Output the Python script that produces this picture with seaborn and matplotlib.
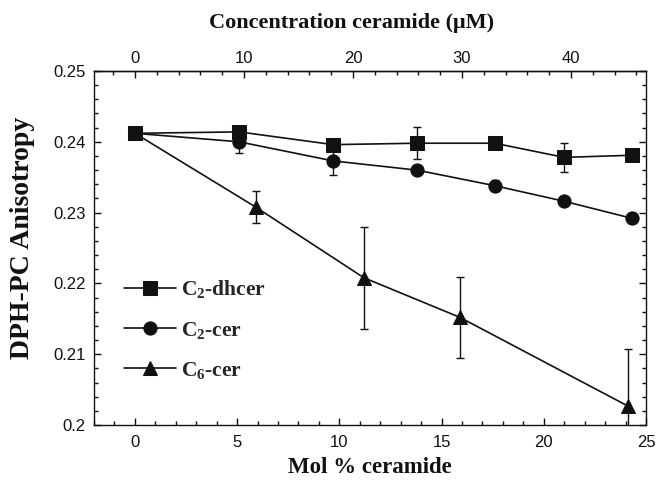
import matplotlib
matplotlib.use("Agg")
import matplotlib.pyplot as plt
import seaborn as sns
import pandas as pd
from matplotlib.ticker import MultipleLocator, FixedLocator, FuncFormatter

# ---- data ----
dh_x = [0, 5.1, 9.7, 13.8, 17.6, 21.0, 24.3]
dh_y = [0.2412, 0.2414, 0.2396, 0.2398, 0.2398, 0.2378, 0.2381]
dh_err = [0, 0, 0, 0.0023, 0, 0.0020, 0]

c2_x = [0, 5.1, 9.7, 13.8, 17.6, 21.0, 24.3]
c2_y = [0.2412, 0.2400, 0.2373, 0.2360, 0.2338, 0.2316, 0.2292]
c2_err = [0, 0.0016, 0.0020, 0, 0.0008, 0, 0.0007]

c6_x = [0, 5.9, 11.2, 15.9, 24.1]
c6_y = [0.2412, 0.2308, 0.2208, 0.2152, 0.2027]
c6_err = [0, 0.0022, 0.0072, 0.0057, 0.0081]

labels = ["C$_2$-dhcer", "C$_2$-cer", "C$_6$-cer"]
top_ticks = [0, 10, 20, 30, 40]
mol_to_uM = 1.875

sns.set_theme(style="ticks")
plt.rcParams["font.family"] = ["Liberation Sans", "DejaVu Sans"]
plt.rcParams["mathtext.fontset"] = "custom"
plt.rcParams["mathtext.rm"] = "Liberation Serif:bold"
plt.rcParams["mathtext.it"] = "Liberation Serif:bold"
plt.rcParams["mathtext.bf"] = "Liberation Serif:bold"

df = pd.concat([
    pd.DataFrame({"x": dh_x, "y": dh_y, "err": dh_err, "series": labels[0]}),
    pd.DataFrame({"x": c2_x, "y": c2_y, "err": c2_err, "series": labels[1]}),
    pd.DataFrame({"x": c6_x, "y": c6_y, "err": c6_err, "series": labels[2]}),
], ignore_index=True)

ink = "#111111"
fig = plt.figure(figsize=(6.68, 4.8), dpi=100)
ax = fig.add_axes([94/668, 55/480, 552/668, 354/480])

for s in labels:
    d = df[df.series == s]
    e = d[d.err > 0]
    ax.errorbar(e.x, e.y, yerr=e.err, fmt="none", ecolor=ink,
                elinewidth=1.0, capsize=2.7, capthick=1.0, zorder=2)

sns.lineplot(data=df, x="x", y="y", style="series", hue="series",
             palette=[ink] * 3, markers={labels[0]: "s", labels[1]: "o", labels[2]: "^"},
             dashes=False, markersize=9.5, markeredgecolor=ink,
             linewidth=1.2, ax=ax, zorder=3, sort=False)

ax.set_xlim(-2, 25)
ax.set_ylim(0.2, 0.25)
ax.xaxis.set_major_locator(MultipleLocator(5))
ax.xaxis.set_minor_locator(MultipleLocator(1))
ax.yaxis.set_major_locator(MultipleLocator(0.01))
ax.yaxis.set_minor_locator(MultipleLocator(0.002))
ax.yaxis.set_major_formatter(FuncFormatter(lambda v, p: "%g" % round(v, 3)))
ax.tick_params(which="both", direction="in", right=True, top=False, width=1.0,
               labelsize=12, colors=ink)
ax.tick_params(axis="x", which="major", pad=7.5)
ax.tick_params(axis="y", which="major", pad=6)
ax.tick_params(which="major", length=5)
ax.tick_params(which="minor", length=3)
for sp in ax.spines.values():
    sp.set_linewidth(1.0)
    sp.set_color(ink)

sec = ax.secondary_xaxis("top", functions=(lambda x: x * mol_to_uM, lambda x: x / mol_to_uM))
sec.xaxis.set_major_locator(FixedLocator(top_ticks))
sec.xaxis.set_minor_locator(MultipleLocator(2))
sec.tick_params(which="both", direction="in", width=1.0, labelsize=12, colors=ink)
sec.tick_params(which="major", length=5, pad=3.5)
sec.tick_params(which="minor", length=3)
sec.spines["top"].set_linewidth(1.0)
sec.spines["top"].set_color(ink)

lab_font = dict(family="Liberation Serif", weight="bold", color=ink)
ax.set_xlabel("Mol % ceramide", size=16.5, labelpad=5, **lab_font)
ax.set_ylabel("DPH-PC Anisotropy", size=20, **lab_font)
ax.yaxis.set_label_coords(-0.107, 0.53)
sec.set_xlabel("Concentration ceramide (\u03bcM)", size=16, **lab_font)
sec.xaxis.set_label_coords(0.467, 1.121, transform=ax.transAxes)

leg = ax.legend(loc="upper left", bbox_to_anchor=(0.035, 0.445), frameon=False,
                prop={"family": "Liberation Serif", "weight": "bold", "size": 15.5},
                handlelength=2.4, handletextpad=0.25, labelspacing=0.9, borderpad=0)

fig.savefig("out.png", dpi=100)
